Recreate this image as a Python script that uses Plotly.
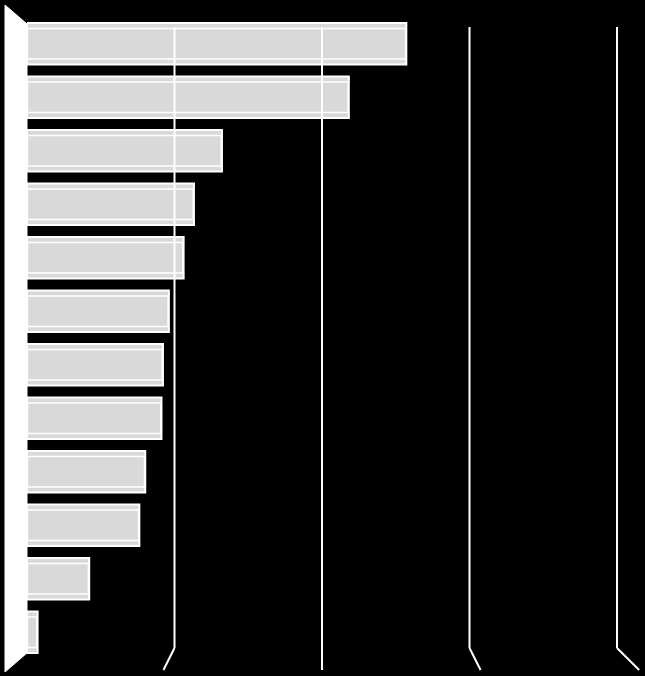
import plotly.graph_objects as go

categories = [f"Item {i}" for i in range(1, 13)]
values = [25.7, 21.8, 13.2, 11.3, 10.6, 9.6, 9.2, 9.1, 8.0, 7.6, 4.2, 0.7]
tick_values = [10, 20, 30, 40]
x_max = 40

W, H = 645, 676
ML, MR, MT, MB = 27, 28, 17, 17
plot_w = W - ML - MR
plot_h = H - MT - MB


def px_to_paper_x(px):
    return (px - ML) / plot_w


def px_to_paper_y(py):
    return (H - MB - py) / plot_h


fig = go.Figure()
# main bar body
fig.add_trace(go.Bar(
    y=categories, x=values, orientation="h", width=0.77,
    marker=dict(color="#d9d9d9", line=dict(color="white", width=2.5)),
    hoverinfo="x+y", showlegend=False,
))
# top face strip
fig.add_trace(go.Bar(
    y=categories, x=values, orientation="h", width=0.1, offset=-0.385,
    marker=dict(color="#d9d9d9", line=dict(color="white", width=1.5)),
    hoverinfo="skip", showlegend=False,
))
# bottom face strip
fig.add_trace(go.Bar(
    y=categories, x=values, orientation="h", width=0.1, offset=0.285,
    marker=dict(color="#d9d9d9", line=dict(color="white", width=1.5)),
    hoverinfo="skip", showlegend=False,
))

shapes = []
for v in tick_values:
    xp = v / x_max
    px = ML + xp * plot_w
    y_top = px_to_paper_y(27)
    y_bot = px_to_paper_y(648)
    shapes.append(dict(type="line", xref="paper", yref="paper", x0=xp, x1=xp,
                       y0=y_bot, y1=y_top, line=dict(color="white", width=2),
                       layer="above"))
    dx = (px - 322) * 0.075
    shapes.append(dict(type="line", xref="paper", yref="paper",
                       x0=xp, y0=y_bot, x1=px_to_paper_x(px + dx), y1=px_to_paper_y(670),
                       line=dict(color="white", width=2), layer="above"))

# left wall (3D floor panel)
pts = [(5, 5), (27, 24), (27, 653), (5, 672)]
path = "M " + " L ".join(f"{px_to_paper_x(a):.5f},{px_to_paper_y(b):.5f}" for a, b in pts) + " Z"
shapes.append(dict(type="path", xref="paper", yref="paper", path=path,
                   fillcolor="white", line=dict(color="white", width=1), layer="above"))

fig.update_layout(
    width=W, height=H,
    margin=dict(l=ML, r=MR, t=MT, b=MB),
    paper_bgcolor="black", plot_bgcolor="black",
    barmode="overlay",
    showlegend=False,
    shapes=shapes,
    xaxis=dict(range=[0, x_max], showgrid=False, zeroline=False,
               showticklabels=False, ticks="", showline=False),
    yaxis=dict(autorange="reversed", showgrid=False, zeroline=False,
               showticklabels=False, ticks="", showline=False),
)

fig.write_html(
    "out.html",
    config={"displayModeBar": False},
    post_script="document.body.style.margin='0';document.body.style.background='black';document.body.style.overflow='hidden';",
)
